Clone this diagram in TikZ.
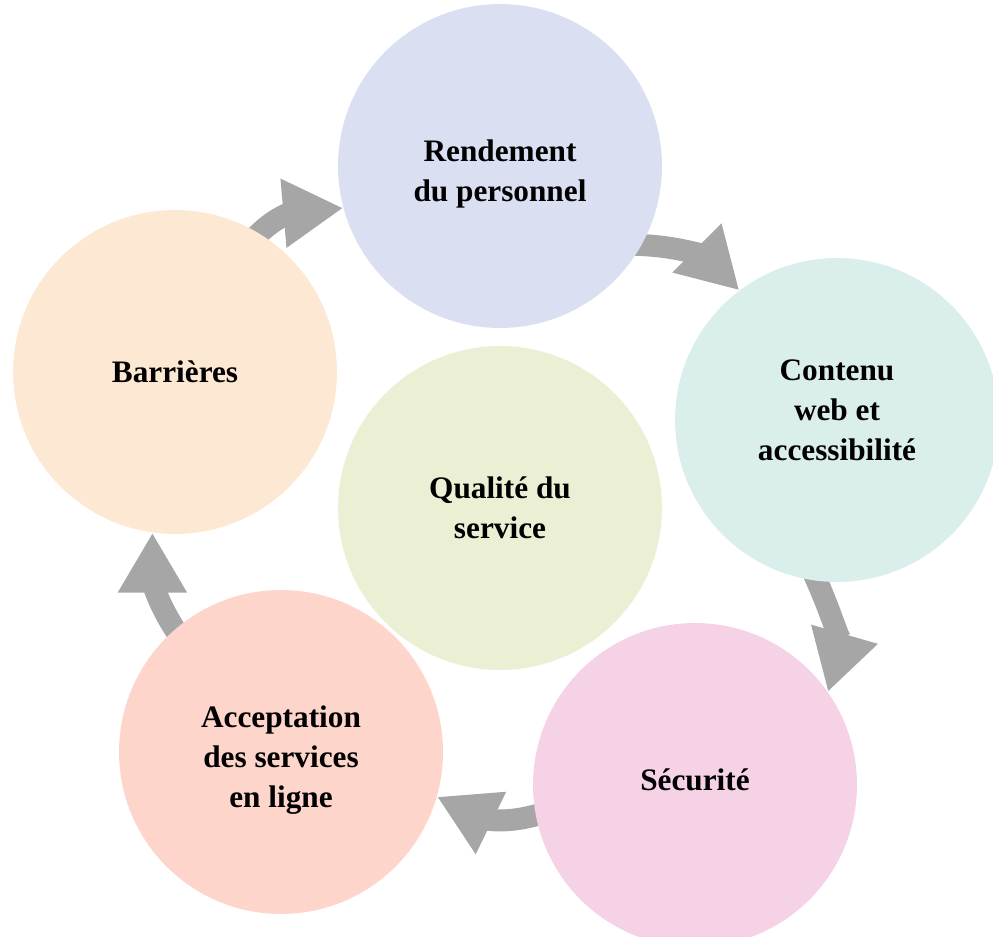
\documentclass[tikz,border=0pt]{standalone}
\usepackage{fontspec}
\setmainfont{Liberation Serif}
\usetikzlibrary{arrows.meta,backgrounds}
\definecolor{fondRend}{HTML}{DAE0F2}
\definecolor{fondCont}{HTML}{DAEEEC}
\definecolor{fondSecu}{HTML}{F5D2E6}
\definecolor{fondAcc}{HTML}{FDD5CA}
\definecolor{fondBar}{HTML}{FDE9D3}
\definecolor{fondQual}{HTML}{EBEFD3}
\definecolor{grisFleche}{HTML}{A6A6A6}
\begin{document}
\begin{tikzpicture}[x=0.02cm,y=0.02cm,
    bulle/.style={circle,minimum size=6.48cm,inner sep=0pt},
    texte/.style={align=center,inner sep=0pt,
      font=\bfseries\fontsize{17.8}{22.8}\selectfont},
    fleche/.style={draw=grisFleche,line width=0.44cm,shorten <=-0.3cm,
      -{Triangle[length=1.2cm,width=1.3cm]}}]
    \useasboundingbox (0,0) rectangle (993,936);

    % les cercles du cycle
    \node[bulle,fill=fondRend,label={[texte,yshift=-0.16cm]center:Rendement\\du personnel}] (rend) at (500,770) {};
    \node[bulle,fill=fondCont,label={[texte,yshift=0.2cm]center:Contenu\\web et\\accessibilité}] (cont) at (837,516) {};
    \node[bulle,fill=fondSecu,label={[texte,yshift=0.1cm]center:Sécurité}] (secu) at (695,151) {};
    \node[bulle,fill=fondAcc,label={[texte,yshift=-0.16cm]center:Acceptation\\des services\\en ligne}] (acc) at (281,184) {};
    \node[bulle,fill=fondBar,label={[texte]center:Barrières}] (bar) at (175,564) {};
    \node[bulle,fill=fondQual,label={[texte]center:Qualité du\\service}] (qual) at (500,428) {};

    % les fleches entre les cercles
    \begin{scope}[on background layer]
    \draw[fleche] (bar.59)   to[out=50,in=185]  (rend.195);
    \draw[fleche] (rend.-29) to[out=0,in=135]   (cont.127);
    \draw[fleche] (cont.263) to[out=-65,in=74]  (secu.35);
    \draw[fleche] (secu.191) to[out=200,in=-26] (acc.-16);
    \draw[fleche] (acc.131)  to[out=126,in=270] (bar.262);
    \end{scope}
\end{tikzpicture}
\end{document}
